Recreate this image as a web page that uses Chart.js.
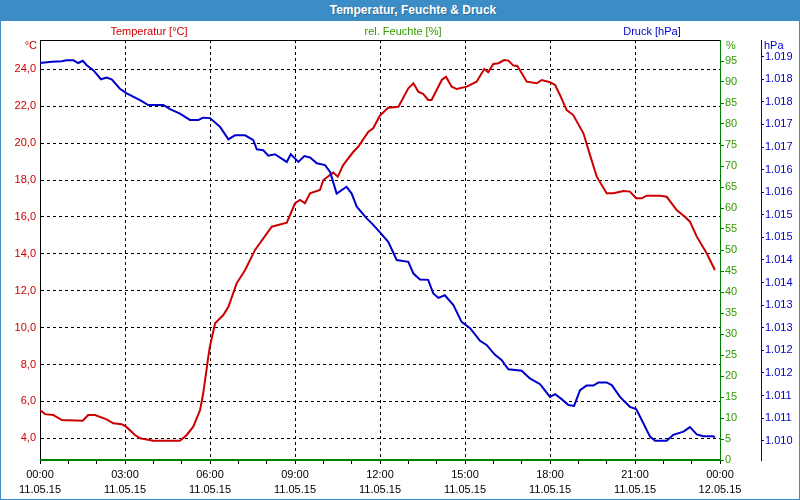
<!DOCTYPE html>
<html>
<head>
<meta charset="utf-8">
<script src="https://cdn.jsdelivr.net/npm/chart.js@4/dist/chart.umd.min.js"></script>
<style>
    body { margin: 0; background: #fff; }
    #frame { position: relative; width: 800px; height: 500px; overflow: hidden; font-family: "Liberation Sans", Arial, sans-serif; }
    #title { position: absolute; left: 0; top: 0; width: 800px; height: 21px; background: #3c8dc5; color: #fff; font-weight: bold; font-size: 12px; line-height: 20px; text-align: center; text-indent: 26px; text-shadow: 1px 1px 0 rgba(0,0,0,0.25); }
    #wrap { position: absolute; left: 0; top: 21px; width: 800px; height: 479px; }
    #border { position: absolute; left: 0; top: 0; width: 800px; height: 500px; box-sizing: border-box; border: 1px solid #3c8dc5; pointer-events: none; }
</style>
</head>
<body>
<div id="frame">
    <div id="title">Temperatur, Feuchte &amp; Druck</div>
    <div id="wrap"><canvas id="chart" width="800" height="479"></canvas></div>
    <div id="border"></div>
</div>
<script>
// hours since 11.05.15 00:00
let tempHours = [0, 0.18, 0.47, 0.77, 1.51, 1.70, 1.94, 2.35, 2.59, 2.88, 3.04, 3.35, 3.53, 4.00, 4.94, 5.18, 5.41, 5.65, 5.76, 5.86,
    5.94, 6.00, 6.18, 6.47, 6.65, 6.94, 7.24, 7.59, 8.18, 8.71, 9.00, 9.18, 9.35, 9.53, 9.88, 10.00, 10.35, 10.51, 10.70, 11.06,
    11.23, 11.59, 11.76, 12.00, 12.29, 12.65, 13.00, 13.18, 13.35, 13.53, 13.70, 13.82, 14.18, 14.33, 14.53, 14.71, 15.06, 15.41, 15.68, 15.82,
    16.00, 16.18, 16.38, 16.53, 16.71, 16.85, 17.18, 17.53, 17.71, 18.00, 18.18, 18.35, 18.59, 18.82, 19.18, 19.41, 19.65, 20.00, 20.24, 20.59,
    20.82, 21.04, 21.24, 21.41, 21.88, 22.12, 22.47, 22.76, 22.94, 23.18, 23.53, 23.82];
let tempValues = [5.53, 5.31, 5.26, 4.99, 4.95, 5.26, 5.26, 5.03, 4.81, 4.76, 4.63, 4.18, 4.00, 3.87, 3.87, 4.18, 4.63, 5.53, 6.44, 7.52,
    8.42, 9.0, 10.23, 10.68, 11.13, 12.40, 13.12, 14.21, 15.47, 15.69, 16.74, 16.92, 16.74, 17.28, 17.46, 18.00, 18.40, 18.18, 18.81, 19.53,
    19.80, 20.62, 20.80, 21.50, 21.92, 21.97, 22.97, 23.24, 22.79, 22.66, 22.34, 22.34, 23.42, 23.60, 23.06, 22.93, 23.06, 23.33, 24.02, 23.84,
    24.29, 24.33, 24.50, 24.47, 24.20, 24.18, 23.33, 23.24, 23.42, 23.30, 23.15, 22.61, 21.79, 21.52, 20.53, 19.36, 18.18, 17.28, 17.28, 17.40,
    17.37, 17.01, 17.01, 17.15, 17.15, 17.09, 16.37, 16.01, 15.74, 14.93, 14.03, 13.12];

let pressHours = [0, 0.41, 0.77, 0.94, 1.18, 1.35, 1.51, 1.65, 1.88, 2.15, 2.35, 2.53, 2.82, 3.06, 3.53, 3.82, 4.35, 4.59, 4.94, 5.29,
    5.59, 5.76, 6.00, 6.35, 6.65, 6.88, 7.24, 7.53, 7.65, 7.88, 8.06, 8.29, 8.71, 8.85, 9.12, 9.33, 9.53, 9.77, 10.06, 10.24,
    10.47, 10.82, 11.00, 11.18, 11.53, 11.71, 12.00, 12.29, 12.59, 13.00, 13.18, 13.41, 13.70, 13.88, 14.06, 14.29, 14.59, 14.88, 15.18, 15.53,
    15.76, 16.06, 16.29, 16.53, 17.00, 17.29, 17.65, 18.00, 18.18, 18.41, 18.65, 18.85, 19.06, 19.29, 19.53, 19.71, 20.00, 20.18, 20.47, 20.82,
    21.04, 21.18, 21.53, 21.71, 22.12, 22.35, 22.71, 22.94, 23.18, 23.41, 23.76, 23.82];
let pressValues = [1018.56, 1018.59, 1018.60, 1018.62, 1018.62, 1018.56, 1018.61, 1018.51, 1018.40, 1018.20, 1018.24, 1018.20, 1017.99, 1017.89, 1017.74, 1017.63, 1017.63, 1017.54, 1017.44, 1017.30,
    1017.30, 1017.35, 1017.34, 1017.15, 1016.87, 1016.96, 1016.96, 1016.85, 1016.65, 1016.63, 1016.51, 1016.54, 1016.37, 1016.54, 1016.37, 1016.50, 1016.47, 1016.34, 1016.30, 1016.15,
    1015.67, 1015.82, 1015.67, 1015.38, 1015.12, 1015.01, 1014.81, 1014.60, 1014.20, 1014.16, 1013.90, 1013.77, 1013.76, 1013.46, 1013.36, 1013.42, 1013.20, 1012.83, 1012.69, 1012.41,
    1012.32, 1012.10, 1011.99, 1011.78, 1011.75, 1011.58, 1011.45, 1011.17, 1011.23, 1011.12, 1010.99, 1010.97, 1011.32, 1011.42, 1011.42, 1011.49, 1011.49, 1011.43, 1011.17, 1010.95,
    1010.90, 1010.73, 1010.29, 1010.20, 1010.20, 1010.33, 1010.40, 1010.50, 1010.34, 1010.30, 1010.30, 1010.27];

// humidity sensor delivered nothing, line sits on 0
let humHours = [0, 24];
let humValues = [0, 0];

let hourTicks = [0, 1, 2, 3, 4, 5, 6, 7, 8, 9, 10, 11, 12, 13, 14, 15, 16, 17, 18, 19, 20, 21, 22, 23, 24];
let timeLabels = ["00:00", "03:00", "06:00", "09:00", "12:00", "15:00", "18:00", "21:00", "00:00"];
let dateLabels = ["11.05.15", "11.05.15", "11.05.15", "11.05.15", "11.05.15", "11.05.15", "11.05.15", "11.05.15", "12.05.15"];

let tempTicks = [4, 6, 8, 10, 12, 14, 16, 18, 20, 22, 24];
let tempTickLabels = ["4,0", "6,0", "8,0", "10,0", "12,0", "14,0", "16,0", "18,0", "20,0", "22,0", "24,0"];

let humTicks = [0, 5, 10, 15, 20, 25, 30, 35, 40, 45, 50, 55, 60, 65, 70, 75, 80, 85, 90, 95];

let pressTicks = [1010.2, 1010.7, 1011.2, 1011.7, 1012.2, 1012.7, 1013.2, 1013.7, 1014.2, 1014.7, 1015.2, 1015.7, 1016.2, 1016.7, 1017.2, 1017.7, 1018.2, 1018.7];
let pressTickLabels = ["1.010", "1.011", "1.011", "1.012", "1.012", "1.013", "1.013", "1.014", "1.014", "1.015", "1.015", "1.016", "1.016", "1.017", "1.017", "1.018", "1.018", "1.019"];

let red = "#cc0000";
let green = "#339900";
let darkGreen = "#008000";
let blue = "#0000cc";
let font = { family: "'Liberation Sans', Arial, sans-serif", size: 11 };

function toPoints(xs, ys) {
    return xs.map((x, i) => ({ x: x, y: ys[i] }));
}

let headerPlugin = {
    id: "header",
    afterDraw: function (chart) {
        let ctx = chart.ctx;
        let area = chart.chartArea;
        ctx.save();
        ctx.strokeStyle = "#000";
        ctx.lineWidth = 1;
        ctx.beginPath();
        ctx.moveTo(area.left, Math.round(area.top) + 0.5);
        ctx.lineTo(area.right, Math.round(area.top) + 0.5);
        ctx.stroke();

        ctx.font = "11px 'Liberation Sans', Arial, sans-serif";
        ctx.textBaseline = "middle";
        ctx.textAlign = "center";
        ctx.fillStyle = red;
        ctx.fillText("Temperatur [°C]", 149, 11);
        ctx.fillStyle = green;
        ctx.fillText("rel. Feuchte [%]", 403, 11);
        ctx.fillStyle = blue;
        ctx.fillText("Druck [hPa]", 652, 11);

        ctx.textAlign = "right";
        ctx.fillStyle = red;
        ctx.fillText("°C", 37, 25);
        ctx.textAlign = "left";
        ctx.fillStyle = green;
        ctx.fillText("%", 726, 25);
        ctx.fillStyle = blue;
        ctx.fillText("hPa", 764, 25);
        ctx.restore();
    }
};

let context = document.getElementById("chart").getContext("2d");

let chart = new Chart(context, {
    type: "line",
    data: {
        datasets: [
            {
                label: "rel. Feuchte [%]",
                data: toPoints(humHours, humValues),
                borderColor: darkGreen,
                borderWidth: 2,
                pointRadius: 0,
                yAxisID: "yH",
                clip: false
            },
            {
                label: "Druck [hPa]",
                data: toPoints(pressHours, pressValues),
                borderColor: blue,
                borderWidth: 2,
                pointRadius: 0,
                tension: 0,
                yAxisID: "yP"
            },
            {
                label: "Temperatur [°C]",
                data: toPoints(tempHours, tempValues),
                borderColor: red,
                borderWidth: 2,
                pointRadius: 0,
                tension: 0,
                yAxisID: "yT"
            }
        ]
    },
    options: {
        responsive: false,
        animation: false,
        layout: { padding: { top: 19, right: 3, bottom: 0, left: 0 } },
        plugins: {
            legend: { display: false },
            tooltip: { enabled: false }
        },
        scales: {
            x: {
                type: "linear",
                position: "bottom",
                min: 0,
                max: 24,
                afterBuildTicks: function (scale) {
                    scale.ticks = hourTicks.map(v => ({ value: v }));
                },
                afterFit: function (scale) {
                    scale.height = 40;
                },
                ticks: {
                    autoSkip: false,
                    maxRotation: 0,
                    padding: 3,
                    color: "#000",
                    font: Object.assign({ lineHeight: 1.4 }, font),
                    callback: function (value) {
                        if (value % 3 !== 0) return "";
                        return [timeLabels[value / 3], dateLabels[value / 3]];
                    }
                },
                grid: {
                    color: ctx => (ctx.tick && ctx.tick.value % 3 === 0 && ctx.tick.value > 0 && ctx.tick.value < 24) ? "#000" : "transparent",
                    tickColor: "#000",
                    tickLength: 4,
                    lineWidth: 1
                },
                border: { color: "#000", width: 1, dash: [3, 3] }
            },
            yT: {
                type: "linear",
                position: "left",
                min: 2.824,
                max: 25.588,
                afterBuildTicks: function (scale) {
                    scale.ticks = tempTicks.map(v => ({ value: v }));
                },
                afterFit: function (scale) {
                    scale.width = 40;
                },
                ticks: {
                    padding: 4,
                    color: red,
                    font: font,
                    callback: (value, index) => tempTickLabels[index]
                },
                grid: {
                    color: "#000",
                    drawTicks: false,
                    lineWidth: 1
                },
                border: { color: "#000", width: 1, dash: [3, 3] }
            },
            yH: {
                type: "linear",
                position: "right",
                min: 0,
                max: 100,
                afterBuildTicks: function (scale) {
                    scale.ticks = humTicks.map(v => ({ value: v }));
                },
                afterFit: function (scale) {
                    scale.width = 41;
                },
                ticks: {
                    padding: 1,
                    color: green,
                    font: font,
                    callback: value => String(value)
                },
                grid: {
                    drawOnChartArea: false,
                    color: darkGreen,
                    tickColor: darkGreen,
                    tickLength: 4
                },
                border: { color: darkGreen, width: 1 }
            },
            yP: {
                type: "linear",
                position: "right",
                min: 1009.773,
                max: 1019.069,
                afterBuildTicks: function (scale) {
                    scale.ticks = pressTicks.map(v => ({ value: v }));
                },
                afterFit: function (scale) {
                    scale.width = 36;
                },
                ticks: {
                    padding: 1,
                    color: blue,
                    font: font,
                    callback: (value, index) => pressTickLabels[index]
                },
                grid: {
                    drawOnChartArea: false,
                    color: blue,
                    tickColor: blue,
                    tickLength: 3
                },
                border: { color: blue, width: 1 }
            }
        }
    },
    plugins: [headerPlugin]
});
</script>
</body>
</html>
